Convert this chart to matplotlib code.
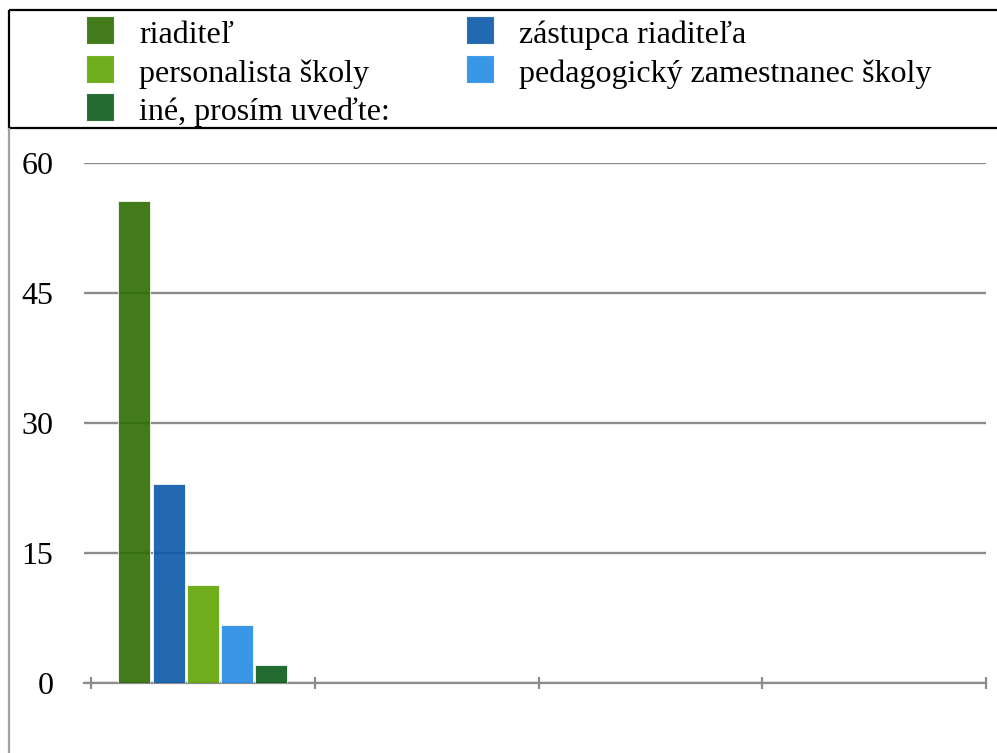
import matplotlib
matplotlib.use("Agg")
import matplotlib.pyplot as plt
from matplotlib.patches import Rectangle

plt.rcParams['font.family'] = ['Liberation Serif', 'DejaVu Serif']

# data
kategorie = ['riaditeľ', 'zástupca riaditeľa', 'personalista školy',
             'pedagogický zamestnanec školy', 'iné, prosím uveďte:']
hodnoty = [55.6, 23.0, 11.3, 6.7, 2.1]
farby = ['#2E6D02', '#0B59A9', '#60A505', '#248BE5', '#0C5B1B']
y_ticky = [0, 15, 30, 45, 60]
n_skupin = 4

W, H = 997, 753
fig = plt.figure(figsize=(W / 100, H / 100), dpi=100)

# hlavny graf
ax = fig.add_axes([84 / W, (H - 683.3) / H, (986 - 84) / W, (683.3 - 163.3) / H])
slot = 0.1528
sirka = 0.143
for i, (v, c) in enumerate(zip(hodnoty, farby)):
    x = (i - (len(hodnoty) - 1) / 2) * slot
    ax.bar(x, v, width=sirka, color=c, alpha=0.9, edgecolor='#ffffff',
           linewidth=0.6, zorder=3)

ax.set_ylim(0, 60)
ax.set_xlim(-0.5 - 7 / 223.75, n_skupin - 0.5)
ax.set_yticks(y_ticky)
ax.set_yticklabels([str(t) for t in y_ticky], fontsize=23)
ax.tick_params(axis='y', length=0, pad=22)
ax.set_xticks([k - 0.5 for k in range(n_skupin + 1)])
ax.set_xticklabels([])
ax.tick_params(axis='x', direction='inout', length=8, width=1.6, color='#8c8c8c')
ax.yaxis.grid(True, color='#8c8c8c', linewidth=1.7, zorder=0)
ax.set_axisbelow(True)
for s in ['top', 'right', 'left']:
    ax.spines[s].set_visible(False)
ax.spines['bottom'].set_color('#8c8c8c')
ax.spines['bottom'].set_linewidth(1.6)

# legenda a ramiky v pixeloch
ov = fig.add_axes([0, 0, 1, 1], zorder=-1)
ov.set_xlim(0, W)
ov.set_ylim(H, 0)
ov.axis('off')
ov.add_patch(Rectangle((9, 10), W + 20, 118, fill=False, edgecolor='black', linewidth=1.6))
ov.plot([9, 9], [129, H], color='#a0a0a0', linewidth=1.6)

stlpce_x = [86, 466]
riadky_y = [30, 69, 107]
for i, (nazov, c) in enumerate(zip(kategorie, farby)):
    mx = stlpce_x[i % 2]
    my = riadky_y[i // 2]
    ov.add_patch(Rectangle((mx, my - 14), 28, 28, facecolor=c, alpha=0.9,
                           edgecolor='#ffffff', linewidth=0.8))
    ov.text(mx + 53, my + 5, nazov, fontsize=23, va='center', ha='left')

fig.savefig('out.png', dpi=100)
